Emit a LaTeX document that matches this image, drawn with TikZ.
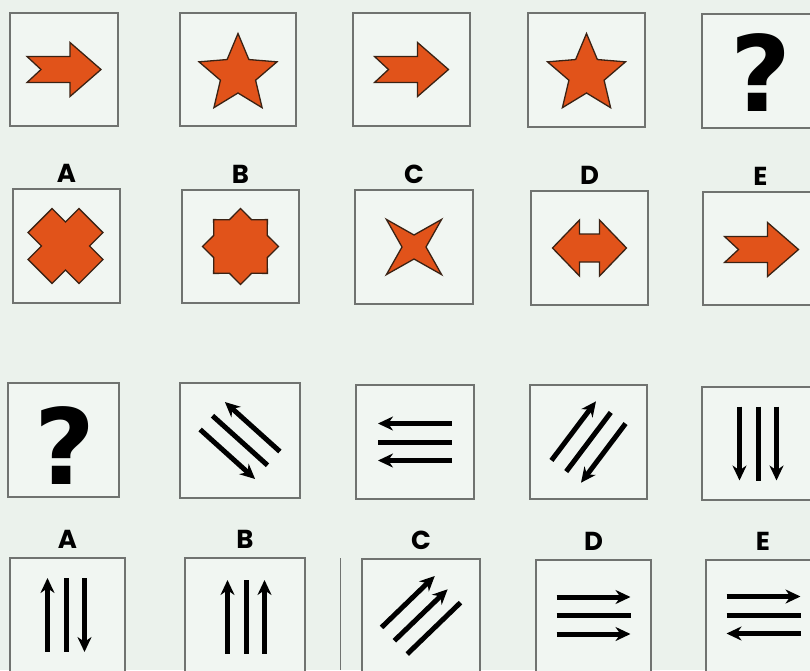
\documentclass[tikz,border=0pt]{standalone}
\usepackage{fontspec}
\usetikzlibrary{arrows.meta, positioning}
\newfontfamily\labelfont{Poppins}
\newfontfamily\qmarkfont{DejaVu Sans}
\definecolor{bgcol}   {HTML}{EBF2EC}
\definecolor{boxcol}  {HTML}{F1F6F2}
\definecolor{framecol}{HTML}{707370}
\definecolor{figcol}  {HTML}{E1531A}
\definecolor{edgecol} {HTML}{3A2214}
\tikzset{
  frame/.style={rectangle, draw=framecol, fill=boxcol, line width=1.1pt, inner sep=0pt, minimum width=116pt, minimum height=114pt},
  lbl/.style={font=\labelfont\bfseries\fontsize{26}{26}\selectfont, inner sep=0pt},
  qmark/.style={font=\qmarkfont\bfseries\fontsize{105}{105}\selectfont, inner sep=0pt},
  figline/.style={draw=edgecol, fill=figcol, line width=1.3pt, line join=miter},
  tline/.style={line width=5pt},
  shaftarrow/.pic={\draw[figline] (-37,-13) -- (6,-13) -- (6,-27) -- (37,0) -- (6,27) -- (6,13) -- (-37,13) -- (-23,0) -- cycle;},
  dblarrow/.pic={\draw[figline] (-37,0) -- (-10,-28) -- (-10,-14) -- (10,-14) -- (10,-28) -- (37,0) -- (10,28) -- (10,14) -- (-10,14) -- (-10,28) -- cycle;},
  cross/.pic={\draw[figline, rotate=45] (17,17) -- (36,17) -- (36,-17) -- (17,-17) -- (17,-36) -- (-17,-36) -- (-17,-17)
      -- (-36,-17) -- (-36,17) -- (-17,17) -- (-17,36) -- (17,36) -- cycle;},
  fivestar/.pic={\draw[figline] (90:41pt)
      \foreach \k [evaluate=\k as \r using {ifthenelse(mod(\k,2)==0,41,18.5)}] in {1,...,9} { -- ({90+36*\k}:\r pt) } -- cycle;},
  eightstar/.pic={\draw[figline] (0:38pt)
      \foreach \k [evaluate=\k as \r using {ifthenelse(mod(\k,2)==0,38,29)}] in {1,...,15} { -- ({22.5*\k}:\r pt) } -- cycle;},
  fourstar/.pic={\draw[figline] (45:39pt)
      \foreach \k [evaluate=\k as \r using {ifthenelse(mod(\k,2)==0,39,12)}] in {1,...,7} { -- ({45+45*\k}:\r pt) } -- cycle;},
  pics/trio/.style n args={3}{code={
      \draw[tline, #1] (-37,-18.5) -- (37,-18.5);
      \draw[tline, #2] (-37,0) -- (37,0);
      \draw[tline, #3] (-37,18.5) -- (37,18.5);}},
}
\begin{document}
\begin{tikzpicture}[x=1pt, y=-1pt, >={Stealth[length=15pt, width=14pt]}]
  \path[use as bounding box, fill=bgcol] (0,0) rectangle (810,670);
  \clip (0,0) rectangle (810,670);

  % first puzzle
  \node[frame, minimum width=108pt, minimum height=113pt] (q1) at (64,69.5) {};
  \node[frame, minimum height=113pt] (q2) at (238,69.5) {};
  \node[frame, minimum width=117pt, minimum height=113pt] (q3) at (411.5,69.5) {};
  \node[frame, minimum width=117pt] (q4) at (586.5,70) {};
  \node[frame] (q5) at (760,71) {};
  \pic at (q1.center) {shaftarrow};
  \pic at ([shift={(0,5)}]q2.center) {fivestar};
  \pic at (q3.center) {shaftarrow};
  \pic at ([shift={(0,4.5)}]q4.center) {fivestar};
  \node[qmark] (m1) at ([shift={(1,2)}]q5.center) {?};

  \node[frame, minimum width=107pt] (a1) at (66.5,246) {};
  \node[frame, minimum width=117pt, minimum height=113pt] (a2) at (240.5,246.5) {};
  \node[frame, minimum width=118pt] (a3) at (414,247) {};
  \node[frame, minimum width=117pt] (a4) at (589.5,248) {};
  \node[frame, minimum width=115pt, minimum height=113pt] (a5) at (760.5,248.5) {};
  \node[lbl, above=6pt of a1] (la1) {A};
  \node[lbl, above=6pt of a2] (la2) {B};
  \node[lbl, above=6pt of a3] (la3) {C};
  \node[lbl, above=6pt of a4] (la4) {D};
  \node[lbl, above=6pt of a5] (la5) {E};
  \pic at ([shift={(-1,0)}]a1.center) {cross};
  \pic at (a2.center) {eightstar};
  \pic at (a3.center) {fourstar};
  \pic at (a4.center) {dblarrow};
  \pic at ([shift={(1,1)}]a5.center) {shaftarrow};

  % second puzzle
  \node[frame, minimum width=111pt] (p1) at (63.5,440) {};
  \node[frame, minimum width=120pt, minimum height=115pt] (p2) at (240,440.5) {};
  \node[frame, minimum width=118pt] (p3) at (415,442) {};
  \node[frame, minimum width=117pt] (p4) at (588.5,442) {};
  \node[frame, minimum height=113pt] (p5) at (760,443.5) {};
  \node[qmark] (m2) at ([shift={(1.5,6)}]p1.center) {?};
  \pic[rotate=-42] at (p2.center) {trio={<-}{-}{->}};
  \pic at (p3.center) {trio={<-}{-}{<-}};
  \pic[rotate=53] at (p4.center) {trio={->}{-}{<-}};
  \pic[rotate=-90] at ([shift={(-2,0)}]p5.center) {trio={->}{-}{->}};

  \node[frame, minimum width=115pt] (b1) at (67.5,615) {};
  \node[frame, minimum width=120pt] (b2) at (245,615) {};
  \node[frame, minimum width=118pt] (b3) at (421,616) {};
  \node[frame, minimum width=115pt] (b4) at (593.5,617) {};
  \node[frame, minimum width=114pt] (b5) at (763,617) {};
  \node[lbl, above=9pt of b1] (lb1) {A};
  \node[lbl, above=9pt of b2] (lb2) {B};
  \node[lbl, above=9pt of b3] (lb3) {C};
  \node[lbl, above=9pt of b4] (lb4) {D};
  \node[lbl, above=9pt of b5] (lb5) {E};
  \pic[rotate=-90] at ([shift={(-1.5,0)}]b1.center) {trio={->}{-}{<-}};
  \pic[rotate=-90] at ([shift={(1,2)}]b2.center) {trio={<-}{-}{<-}};
  \pic[rotate=44] at ([shift={(0,-1)}]b3.center) {trio={->}{->}{-}};
  \pic at ([shift={(0,-1.5)}]b4.center) {trio={->}{-}{->}};
  \pic at ([shift={(0.5,-2)}]b5.center) {trio={->}{-}{<-}};
  \draw[framecol, line width=1pt] (340,558) -- (340,670);
\end{tikzpicture}
\end{document}
